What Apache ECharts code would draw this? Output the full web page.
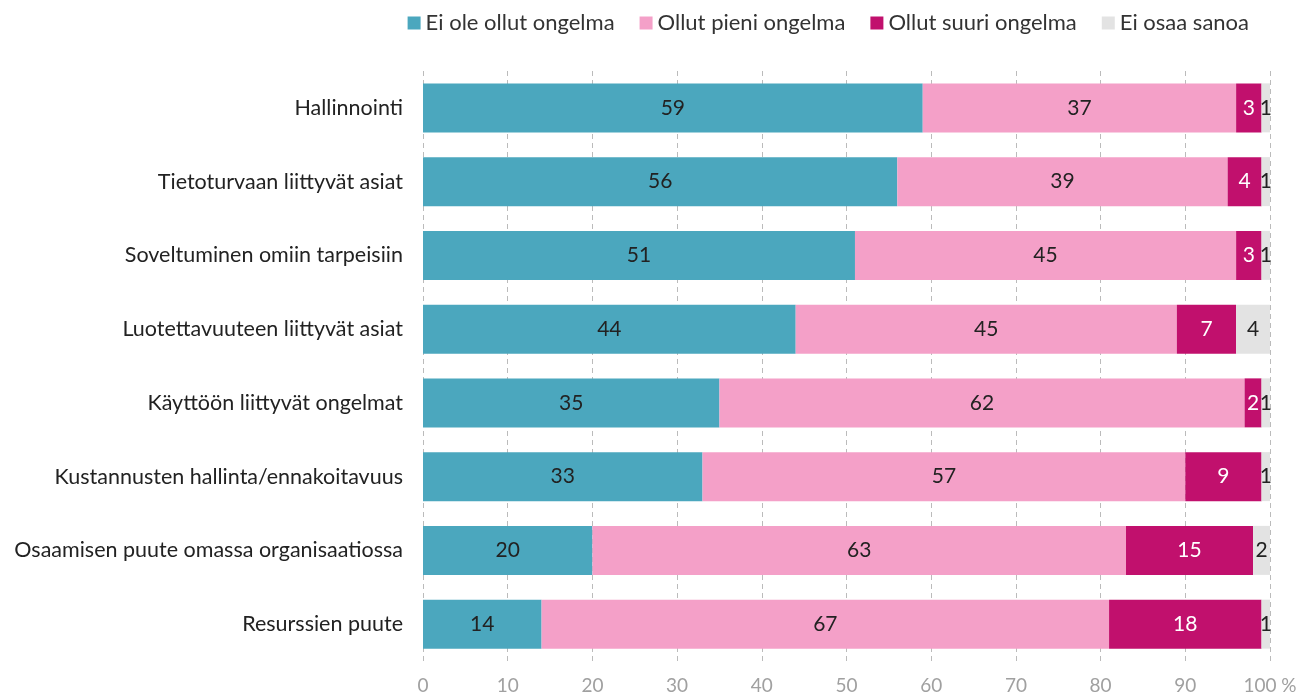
<!DOCTYPE html>
<html>
<head>
<meta charset="utf-8">
<script src="https://cdn.jsdelivr.net/npm/echarts@6/dist/echarts.min.js"></script>
<style>
  html, body { margin: 0; padding: 0; background: #fff; }
  #chart { width: 1309px; height: 695px; }
</style>
</head>
<body>
<div id="chart"></div>
<script>
  // data
  var categories = [
    'Hallinnointi',
    'Tietoturvaan liittyvät asiat',
    'Soveltuminen omiin tarpeisiin',
    'Luotettavuuteen liittyvät asiat',
    'Käyttöön liittyvät ongelmat',
    'Kustannusten hallinta/ennakoitavuus',
    'Osaamisen puute omassa organisaatiossa',
    'Resurssien puute'
  ]
  var eiOngelmaa = [59, 56, 51, 44, 35, 33, 20, 14]
  var pieniOngelma = [37, 39, 45, 45, 62, 57, 63, 67]
  var suuriOngelma = [3, 4, 3, 7, 2, 9, 15, 18]
  var eiOsaa = [1, 1, 1, 4, 1, 1, 2, 1]

  var font = 'Lato'

  function makeSeries(name, data, color, labelColor) {
    return {
      name: name,
      type: 'bar',
      stack: 'total',
      barWidth: 49,
      data: data,
      itemStyle: {
        color: color
      },
      label: {
        show: true,
        position: 'inside',
        color: labelColor,
        fontFamily: font,
        fontSize: 21
      },
      emphasis: { disabled: true }
    }
  }

  var chart = echarts.init(document.getElementById('chart'))
  chart.setOption({
    animation: false,
    textStyle: { fontFamily: font },
    legend: {
      top: 7,
      right: 55,
      itemWidth: 13,
      itemHeight: 13,
      itemGap: 25,
      icon: 'rect',
      textStyle: {
        fontFamily: font,
        fontSize: 22,
        color: '#333'
      }
    },
    grid: {
      left: 423,
      right: 39,
      top: 71,
      bottom: 32
    },
    xAxis: {
      type: 'value',
      min: 0,
      max: 100,
      interval: 10,
      axisLine: { show: false },
      axisTick: { show: false },
      splitLine: {
        show: true,
        lineStyle: { color: '#bbb', type: [5, 4], width: 1 }
      },
      axisLabel: {
        color: '#a0a0a0',
        fontFamily: font,
        fontSize: 19,
        margin: 15,
        formatter: function (v) {
          return v === 100 ? '100 %' : String(v)
        }
      }
    },
    yAxis: {
      type: 'category',
      inverse: true,
      data: categories,
      axisLine: { show: false },
      axisTick: { show: false },
      axisLabel: {
        color: '#222',
        fontFamily: font,
        fontSize: 21.5,
        margin: 20
      }
    },
    series: [
      makeSeries('Ei ole ollut ongelma', eiOngelmaa, '#4BA7BE', '#222'),
      makeSeries('Ollut pieni ongelma', pieniOngelma, '#F4A0C8', '#222'),
      makeSeries('Ollut suuri ongelma', suuriOngelma, '#C1106D', '#fff'),
      makeSeries('Ei osaa sanoa', eiOsaa, '#E3E3E3', '#222')
    ]
  })
</script>
</body>
</html>
